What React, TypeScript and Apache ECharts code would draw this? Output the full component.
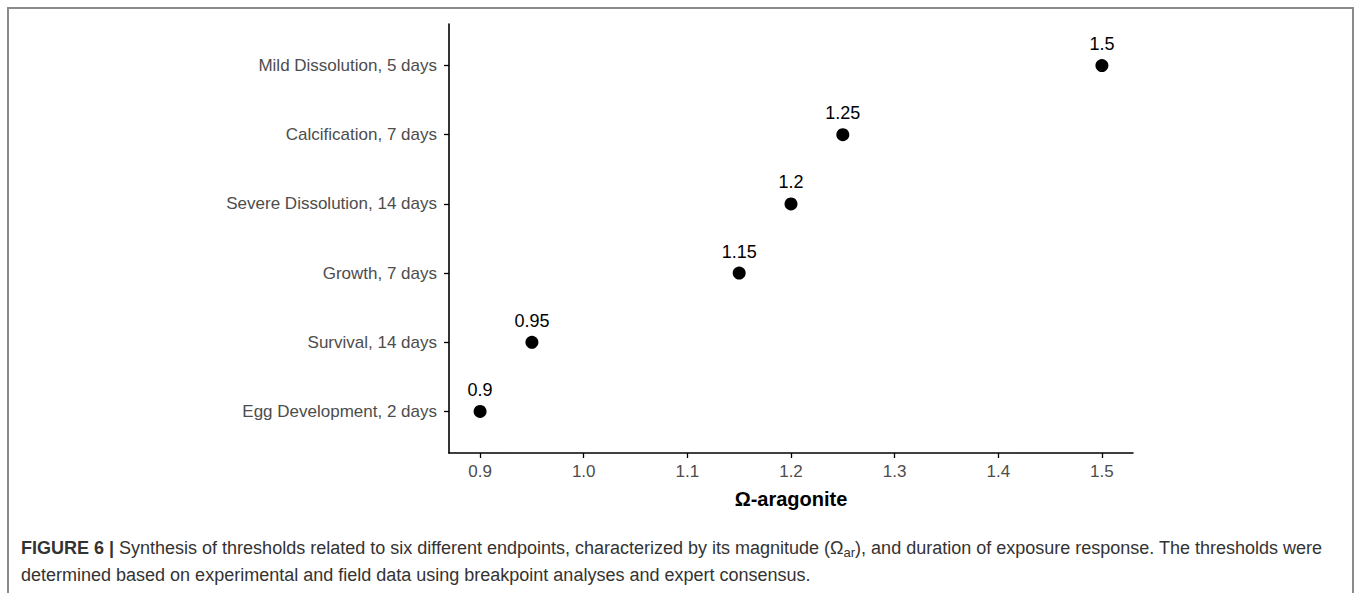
import React, { useEffect, useRef } from "react";
import * as echarts from "echarts";

const categories = [
  "Egg Development, 2 days",
  "Survival, 14 days",
  "Growth, 7 days",
  "Severe Dissolution, 14 days",
  "Calcification, 7 days",
  "Mild Dissolution, 5 days",
];
const thresholds = [0.9, 0.95, 1.15, 1.2, 1.25, 1.5];
const pointLabels = ["0.9", "0.95", "1.15", "1.2", "1.25", "1.5"];
const xTicks = [0.9, 1.0, 1.1, 1.2, 1.3, 1.4, 1.5];
const yTicks = [0, 1, 2, 3, 4, 5];

const FONT = "Liberation Sans, Arial, sans-serif";

export default function App() {
  const ref = useRef<HTMLDivElement>(null);
  useEffect(() => {
    if (!ref.current) return;
    const chart = echarts.init(ref.current, undefined, { renderer: "svg" });
    const data = thresholds.map((v, i) => ({
      value: [v, i],
      label: { formatter: pointLabels[i] },
    }));
    chart.setOption({
      animation: false,
      backgroundColor: "#ffffff",
      textStyle: { fontFamily: FONT },
      grid: { left: 449, right: 225, top: 24, bottom: 140 },
      xAxis: {
        type: "value",
        min: 0.87,
        max: 1.53,
        name: "Ω-aragonite",
        nameLocation: "middle",
        nameGap: 36,
        nameTextStyle: { fontSize: 20, fontWeight: "bold", color: "#000", fontFamily: FONT },
        axisLine: { show: true, onZero: false, lineStyle: { color: "#000", width: 1.6 } },
        axisTick: { show: true, length: 5, customValues: xTicks, lineStyle: { color: "#000", width: 1.3 } },
        axisLabel: {
          customValues: xTicks,
          margin: 10,
          fontSize: 17,
          color: "#4d4d4d",
          fontFamily: FONT,
          formatter: (v: number) => v.toFixed(1),
        },
        splitLine: { show: false },
      },
      yAxis: {
        type: "value",
        min: -0.6,
        max: 5.6,
        axisLine: { show: true, onZero: false, lineStyle: { color: "#000", width: 1.6 } },
        axisTick: { show: true, length: 5, customValues: yTicks, lineStyle: { color: "#000", width: 1.3 } },
        axisLabel: {
          customValues: yTicks,
          margin: 12,
          fontSize: 17,
          color: "#4d4d4d",
          fontFamily: FONT,
          formatter: (v: number) => categories[Math.round(v)] ?? "",
        },
        splitLine: { show: false },
      },
      series: [
        {
          type: "scatter",
          data,
          symbol: "circle",
          symbolSize: 13,
          itemStyle: { color: "#000", opacity: 1 },
          label: {
            show: true,
            position: "top",
            distance: 6,
            fontSize: 18,
            color: "#000",
            fontFamily: FONT,
          },
        },
      ],
      graphic: [
        {
          type: "rect",
          shape: { x: 8, y: 8, width: 1345, height: 600 },
          style: { fill: "none", stroke: "#8a8a8a", lineWidth: 2 },
          silent: true,
        },
        {
          type: "text",
          x: 21,
          y: 548,
          style: {
            text: "{b|FIGURE 6 |} Synthesis of thresholds related to six different endpoints, characterized by its magnitude (Ω{s|ar}), and duration of exposure response. The thresholds were",
            fontFamily: FONT,
            fontSize: 18,
            fill: "#333",
            verticalAlign: "middle",
            rich: {
              b: { fontWeight: "bold", fontSize: 18, fill: "#333", fontFamily: FONT },
              s: { fontSize: 13, fill: "#333", fontFamily: FONT, padding: [9, 0, 0, 0] },
            },
          },
        },
        {
          type: "text",
          x: 21,
          y: 575,
          style: {
            text: "determined based on experimental and field data using breakpoint analyses and expert consensus.",
            fontFamily: FONT,
            fontSize: 18,
            fill: "#333",
            verticalAlign: "middle",
          },
        },
      ],
    });
    return () => chart.dispose();
  }, []);
  return (
    <div
      ref={ref}
      style={{ position: "absolute", left: 0, top: 0, width: 1358, height: 593 }}
    />
  );
}
